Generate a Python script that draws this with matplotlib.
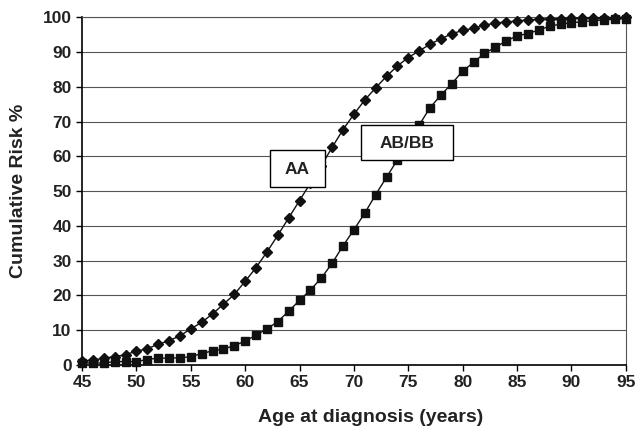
import matplotlib
matplotlib.use("Agg")
import matplotlib.pyplot as plt
from matplotlib.patches import Rectangle

# Age at diagnosis (years), one point per year
ages = list(range(45, 96))

# Cumulative risk %, genotype AA (diamonds)
risk_aa = [1.2, 1.4, 2.0, 2.4, 3.0, 4.0, 4.7, 6.0, 7.0, 8.4,
           10.4, 12.3, 14.7, 17.5, 20.3, 24.1, 28.0, 32.5, 37.3, 42.3,
           47.3, 52.3, 57.3, 62.6, 67.7, 72.1, 76.2, 79.7, 83.0, 86.0,
           88.4, 90.3, 92.2, 93.8, 95.2, 96.2, 96.8, 97.7, 98.3, 98.6,
           98.9, 99.2, 99.4, 99.5, 99.6, 99.7, 99.8, 99.8, 99.9, 99.9,
           100.0]

# Cumulative risk %, genotype AB/BB (squares)
risk_abbb = [0.6, 0.6, 0.6, 1.0, 1.0, 1.0, 1.6, 2.0, 2.0, 2.1,
             2.4, 3.3, 4.1, 4.6, 5.6, 6.9, 8.6, 10.4, 12.5, 15.5,
             18.6, 21.6, 25.0, 29.3, 34.3, 38.9, 43.7, 49.0, 54.0, 59.0,
             64.0, 69.0, 74.0, 77.6, 80.9, 84.5, 87.0, 89.6, 91.3, 93.2,
             94.6, 95.3, 96.3, 97.4, 98.0, 98.4, 98.7, 99.0, 99.2, 99.4,
             99.6]

x_ticks = list(range(45, 96, 5))
y_ticks = list(range(0, 101, 10))

plt.rcParams["font.family"] = ["Liberation Sans", "DejaVu Sans"]

fig = plt.figure(figsize=(6.36, 4.29), dpi=100)
ax = fig.add_axes([0.129, 0.149, 0.855, 0.811])

ax.plot(ages, risk_aa, color="#111111", lw=1, marker="D", markersize=5.6,
        markerfacecolor="#111111", markeredgecolor="#111111", zorder=3,
        clip_on=False)
ax.plot(ages, risk_abbb, color="#111111", lw=1, marker="s", markersize=6,
        markerfacecolor="#111111", markeredgecolor="#111111", zorder=3,
        clip_on=False)

ax.set_xlim(45, 95)
ax.set_ylim(0, 100)
ax.set_xticks(x_ticks)
ax.set_yticks(y_ticks)
ax.tick_params(direction="out", length=4, width=1, labelsize=12.5)
for lbl in ax.get_xticklabels() + ax.get_yticklabels():
    lbl.set_fontweight("bold")
    lbl.set_color("#222222")
ax.grid(axis="y", color="#555555", lw=0.8)
ax.set_axisbelow(True)
for side in ["left", "bottom"]:
    ax.spines[side].set_color("black")
    ax.spines[side].set_linewidth(1.2)
for side in ["top", "right"]:
    ax.spines[side].set_color("#555555")
    ax.spines[side].set_linewidth(0.8)

# label boxes
ax.add_patch(Rectangle((62.24, 51.1), 5.06, 10.6, facecolor="white",
                       edgecolor="black", lw=1, zorder=5))
ax.add_patch(Rectangle((70.67, 58.9), 8.43, 10.0, facecolor="white",
                       edgecolor="black", lw=1, zorder=5))
ax.text(64.77, 56.2, "AA", ha="center", va="center", fontsize=12.5,
        fontweight="bold", color="#222222", zorder=6)
ax.text(74.88, 63.7, "AB/BB", ha="center", va="center", fontsize=12.5,
        fontweight="bold", color="#222222", zorder=6)

ax.set_xlabel("Age at diagnosis (years)", fontsize=14, fontweight="bold",
              color="#222222")
ax.xaxis.set_label_coords(0.53, -0.125, transform=ax.transAxes)
ax.xaxis.label.set_va("top")
ax.set_ylabel("Cumulative Risk %", fontsize=14, fontweight="bold",
              color="#222222", labelpad=11)

fig.savefig("out.png", dpi=100)
